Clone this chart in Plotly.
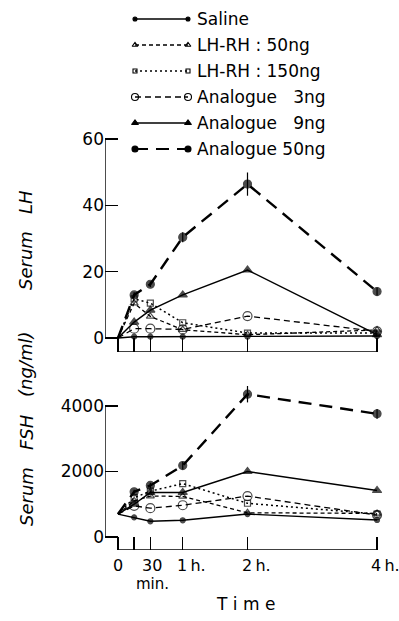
import plotly.graph_objects as go

# ---------------- data ----------------
times = [0, 15, 30, 60, 120, 240]
tick_vals = [0, 15, 30, 60, 120, 240]
series_names = ["Saline", "LH-RH : 50ng", "LH-RH : 150ng",
                "Analogue\u00a0\u00a0 3ng", "Analogue\u00a0\u00a0 9ng", "Analogue 50ng"]

lh_saline = [0, 0.4, 0.4, 0.4, 0.4, 0.6]
lh_lhrh50 = [0, 10.5, 6.5, 2.5, 1.0, 2.4]
lh_lhrh150 = [0, 11.8, 10.5, 4.6, 1.5, 1.5]
lh_ana3 = [0, 2.8, 2.8, 2.6, 6.6, 2.0]
lh_ana9 = [0, 4.8, 8.4, 13.0, 20.5, 1.0]
lh_ana50 = [0, 13.0, 16.2, 30.4, 46.4, 14.0]
lh_ana50_err = [0, 0.8, 0.8, 1.5, 3.5, 1.2]

fsh_saline = [700, 600, 480, 510, 700, 520]
fsh_lhrh50 = [700, 1100, 1250, 1240, 740, 720]
fsh_lhrh150 = [700, 1200, 1400, 1630, 1030, 700]
fsh_ana3 = [700, 950, 880, 970, 1250, 670]
fsh_ana9 = [700, 1000, 1360, 1360, 2000, 1420]
fsh_ana50 = [700, 1380, 1575, 2180, 4360, 3760]
fsh_ana50_err = [0, 60, 80, 120, 250, 150]

lh_ticks = [0, 20, 40, 60]
fsh_ticks = [0, 2000, 4000]
x_labels = ["0", "30", "1\u2009h.", "2\u2009h.", "4\u2009h."]
x_label_vals = [0, 30, 60, 120, 240]

# ---------------- styles ----------------
W, H = 399, 621
FONT = "DejaVu Sans"
styles = [
    dict(symbol="circle", size=5, dash="solid", width=1.4),
    dict(symbol="triangle-up-open", size=7, dash="4px,3px", width=1.3),
    dict(symbol="square-open", size=6, dash="2px,3px", width=1.5),
    dict(symbol="circle-open", size=9, dash="6px,4px", width=1.3),
    dict(symbol="triangle-up", size=8, dash="solid", width=1.5),
    dict(symbol="circle", size=8, dash="13px,8px", width=2.4),
]
lh_data = [lh_saline, lh_lhrh50, lh_lhrh150, lh_ana3, lh_ana9, lh_ana50]
fsh_data = [fsh_saline, fsh_lhrh50, fsh_lhrh150, fsh_ana3, fsh_ana9, fsh_ana50]


def px_x(p):
    return p / W


def px_y(p):
    return 1 - p / H


fig = go.Figure()

for i, st in enumerate(styles):
    sizes = [0] + [st["size"]] * (len(times) - 1)
    for data, xa, ya, err in ((lh_data[i], "x", "y", lh_ana50_err),
                              (fsh_data[i], "x2", "y2", fsh_ana50_err)):
        tr = dict(
            x=times, y=data, xaxis=xa, yaxis=ya, mode="lines+markers",
            line=dict(color="black", width=st["width"], dash=st["dash"]),
            marker=dict(symbol=st["symbol"], size=sizes, color="black",
                        line=dict(color="black", width=1.2)),
            hoverinfo="skip", showlegend=False, cliponaxis=False,
        )
        if i == 5:
            tr["error_y"] = dict(type="data", array=err, visible=True,
                                 color="black", thickness=1.2, width=0)
        fig.add_trace(go.Scatter(**tr))

# legend drawn in a pixel-space overlay axis
legend_rows = [19, 45, 71, 97, 123, 149]
for i, st in enumerate(styles):
    fig.add_trace(go.Scatter(
        x=[135, 188], y=[legend_rows[i]] * 2, xaxis="x3", yaxis="y3",
        mode="lines+markers",
        line=dict(color="black", width=min(st["width"], 1.8), dash=st["dash"]),
        marker=dict(symbol=st["symbol"], size=max(st["size"] - 2, 4), color="black",
                    line=dict(color="black", width=1.1)),
        hoverinfo="skip", showlegend=False,
    ))

annotations = []
for i, name in enumerate(series_names):
    annotations.append(dict(x=195, y=legend_rows[i], xref="x3", yref="y3",
                            text=name, showarrow=False, xanchor="left",
                            yanchor="middle", font=dict(size=17, family=FONT, color="black")))

# x tick labels (bottom panel)
tick_y = px_y(565)
for val, txt in zip(x_label_vals, x_labels):
    if val < 60:
        anchor, shift = "center", (2 if val == 30 else 0)
    else:
        anchor, shift = "left", -7
    annotations.append(dict(x=val, y=tick_y, xref="x2", yref="paper", text=txt,
                            showarrow=False, xanchor=anchor, yanchor="middle", xshift=shift,
                            borderpad=0,
                            font=dict(size=16, family=FONT, color="black")))
annotations.append(dict(x=30, y=px_y(584), xref="x2", yref="paper", text="min.",
                        showarrow=False, xanchor="center", yanchor="middle", xshift=2,
                        font=dict(size=15, family=FONT, color="black")))
annotations.append(dict(x=118, y=px_y(604), xref="x2", yref="paper", text="T i m e",
                        showarrow=False, xanchor="center", yanchor="middle",
                        font=dict(size=17, family=FONT, color="black")))
# y titles
for txt, yc in (("<i>Serum\u00a0\u00a0 LH</i>", 240), ("<i>(ng/ml)</i>", 365),
                ("<i>Serum\u00a0\u00a0 FSH</i>", 470)):
    annotations.append(dict(x=px_x(26), y=px_y(yc), xref="paper", yref="paper", text=txt,
                            textangle=-90, showarrow=False, xanchor="center", yanchor="middle",
                            font=dict(size=18, family=FONT, color="black")))

# axis lines (offset style)
shapes = []
for xr, yr, ymin, ytop in (("x", "y", -4.22, 60), ("x2", "y2", -397, 4000)):
    shapes.append(dict(type="line", xref=xr, yref=yr, x0=-12, x1=-12, y0=0, y1=ytop,
                       line=dict(color="black", width=1.4)))
    shapes.append(dict(type="line", xref=xr, yref=yr, x0=0, x1=240, y0=ymin, y1=ymin,
                       line=dict(color="black", width=1.4)))

x_dom = [px_x(105), px_x(390)]
common_x = dict(range=[-12, 252], domain=x_dom, showline=False, showgrid=False,
                zeroline=False, ticks="inside", tickvals=tick_vals, showticklabels=False,
                tickcolor="black", tickwidth=1.4)
common_y = dict(showline=False, showgrid=False, zeroline=False, ticks="inside",
                ticklen=13, tickcolor="black", tickwidth=1.4,
                tickfont=dict(size=17, family=FONT, color="black"))

# FSH axis: 0 -> 537px, 4000 -> 406px; bottom 550px, top 378px
fsh_per_px = 4000 / (537 - 406)
fig.update_layout(
    width=W, height=H, margin=dict(l=0, r=0, t=0, b=0),
    paper_bgcolor="white", plot_bgcolor="rgba(0,0,0,0)", showlegend=False,
    xaxis=dict(**common_x, anchor="y", ticklen=14),
    yaxis=dict(**common_y, anchor="x", domain=[px_y(352), px_y(130)],
               range=[-4.22, 62.71], tickvals=lh_ticks),
    xaxis2=dict(**common_x, anchor="y2", ticklen=13),
    yaxis2=dict(**common_y, anchor="x2", domain=[px_y(550), px_y(378)],
                range=[-(550 - 537) * fsh_per_px, (537 - 378) * fsh_per_px],
                tickvals=fsh_ticks),
    xaxis3=dict(domain=[0, 1], range=[0, W], visible=False, anchor="y3"),
    yaxis3=dict(domain=[0, 1], range=[H, 0], visible=False, anchor="x3"),
    annotations=annotations, shapes=shapes,
)

fig.write_html("out.html", config={"displayModeBar": False, "staticPlot": True},
               post_script="document.body.style.margin='0px';")
